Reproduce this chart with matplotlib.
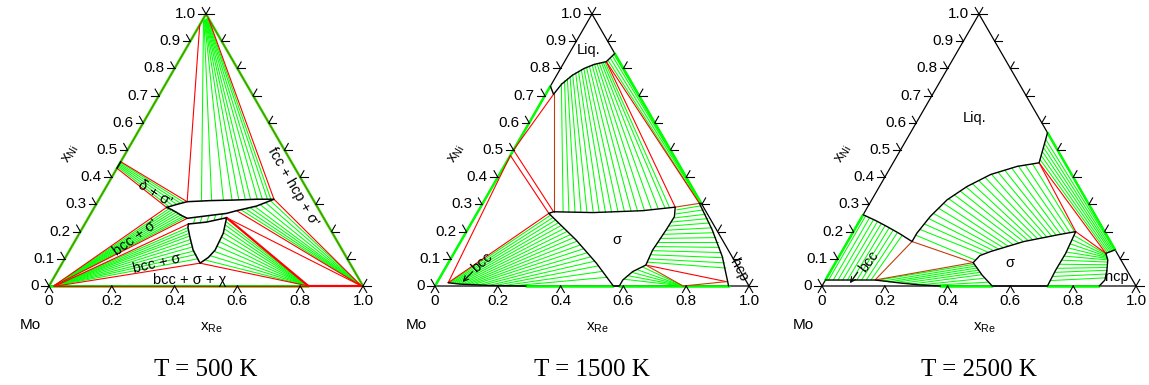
import numpy as np
import matplotlib.pyplot as plt

plt.rcParams['font.family'] = ['Liberation Sans', 'DejaVu Sans']
plt.rcParams['mathtext.fontset'] = 'custom'
plt.rcParams['mathtext.rm'] = 'Liberation Sans'
plt.rcParams['mathtext.it'] = 'Liberation Sans'

GREEN = '#00ff00'
RED = '#ff0000'
BROWN = '#c0400a'

# ---- axis ticks (compositions x_Ni on the Mo-Ni side, x_Re on Mo-Re side)
LEFT_TICKS = [0.0, 0.1, 0.2, 0.3, 0.4, 0.5, 0.6, 0.7, 0.8, 0.9, 1.0]
LEFT_LABELS = ['0', '0.1', '0.2', '0.3', '0.4', '0.5', '0.6', '0.7', '0.8', '0.9', '1.0']
BOTTOM_TICKS = [0.0, 0.2, 0.4, 0.6, 0.8, 1.0]
BOTTOM_LABELS = ['0', '0.2', '0.4', '0.6', '0.8', '1.0']
RIGHT_TICKS = [0.0, 0.1, 0.2, 0.3, 0.4, 0.5, 0.6, 0.7, 0.8, 0.9, 1.0]
TITLES = ['T = 500 K', 'T = 1500 K', 'T = 2500 K']

# all points are (x_Re, x_Ni)
# ================= T = 500 K =================
T500_SIGP = [(0.230, 0.289), (0.257, 0.300), (0.285, 0.310), (0.356, 0.314), (0.429, 0.316),
             (0.502, 0.319), (0.557, 0.319), (0.514, 0.294), (0.459, 0.277), (0.432, 0.267),
             (0.373, 0.258), (0.316, 0.249), (0.295, 0.258), (0.272, 0.270), (0.250, 0.281),
             (0.230, 0.289)]
T500_SIG = [(0.330, 0.228), (0.384, 0.235), (0.440, 0.251), (0.458, 0.194), (0.463, 0.132),
            (0.455, 0.105), (0.439, 0.084), (0.393, 0.132), (0.358, 0.181), (0.335, 0.215),
            (0.330, 0.228)]
T500_BCC = (0.015, 0.0)
T500_CHI = (0.826, 0.0)
T500_HCP = (0.995, 0.0)
T500_FCC_ENDS = [(0.004, 0.976), (0.005, 0.977), (0.006, 0.978), (0.007, 0.978), (0.008, 0.979),
                 (0.009, 0.980), (0.010, 0.981), (0.011, 0.981), (0.012, 0.982), (0.013, 0.983),
                 (0.014, 0.984)]
T500_SIGP_FCC = [(0.329, 0.313), (0.361, 0.314), (0.398, 0.315), (0.425, 0.316), (0.446, 0.317),
                 (0.467, 0.317), (0.483, 0.318), (0.504, 0.319), (0.520, 0.319), (0.536, 0.319),
                 (0.547, 0.319)]
T500_DELTA_ENDS = [(0.0, 0.438), (0.0, 0.442), (0.0, 0.446), (0.0, 0.450), (0.0, 0.454)]
T500_SIGP_DELTA = [(0.236, 0.292), (0.246, 0.296), (0.257, 0.300), (0.267, 0.304), (0.277, 0.307)]
T500_SIGP_BCC = [(0.240, 0.284), (0.250, 0.280), (0.260, 0.276), (0.270, 0.272), (0.280, 0.267),
                 (0.290, 0.262), (0.300, 0.257), (0.308, 0.253)]
T500_SIG_BCC = [(0.334, 0.214), (0.340, 0.203), (0.347, 0.192), (0.355, 0.183), (0.365, 0.171),
                (0.375, 0.158), (0.386, 0.144), (0.398, 0.129), (0.410, 0.116), (0.424, 0.100)]
T500_SIG_CHI = [(0.445, 0.237), (0.450, 0.224), (0.454, 0.210), (0.457, 0.196), (0.460, 0.180),
                (0.462, 0.163), (0.463, 0.146), (0.461, 0.128), (0.456, 0.112), (0.448, 0.096)]
T500_SIGP_HCP = [(0.470, 0.281), (0.482, 0.285), (0.495, 0.289), (0.508, 0.293), (0.522, 0.300),
                 (0.536, 0.307), (0.548, 0.314)]
T500_SIGP_SIG_A = [(0.340, 0.252), (0.360, 0.255), (0.380, 0.259), (0.400, 0.262), (0.420, 0.265)]
T500_SIGP_SIG_B = [(0.345, 0.230), (0.365, 0.232), (0.385, 0.236), (0.405, 0.241), (0.425, 0.246)]
T500_RED = [((0.0, 0.960), (0.285, 0.310)), ((0.015, 0.985), (0.557, 0.319)),
            ((0.557, 0.319), (0.995, 0.0)), ((0.0, 0.457), (0.285, 0.310)),
            ((0.0, 0.433), (0.230, 0.289)), ((0.015, 0.0), (0.230, 0.289)),
            ((0.015, 0.0), (0.316, 0.249)), ((0.020, 0.0), (0.330, 0.228)),
            ((0.025, 0.0), (0.439, 0.084)), ((0.439, 0.084), (0.826, 0.0)),
            ((0.459, 0.277), (0.995, 0.0)), ((0.440, 0.251), (0.995, 0.0)),
            ((0.015, 0.0), (0.826, 0.0))]
T500_RED_THICK = [((0.440, 0.251), (0.826, 0.0)), ((0.826, 0.0), (0.995, 0.0))]
T500_TEXT = [('fcc + hcp + σ\'', 0.777, 0.315, -60), ('δ + σ\'', 0.336, 0.295, -32),
             ('bcc + σ\'', 0.274, 0.155, 36), ('bcc + σ', 0.345, 0.072, 13),
             ('bcc + σ + χ', 0.449, 0.020, 0)]

# ================= T = 1500 K =================
T1500_LIQ = [(0.0, 0.735), (0.025, 0.705), (0.032, 0.742), (0.050, 0.775), (0.075, 0.800),
             (0.100, 0.815), (0.133, 0.825), (0.145, 0.855)]
T1500_SIG = [(0.229, 0.267), (0.241, 0.273), (0.368, 0.270), (0.523, 0.277), (0.620, 0.290),
             (0.635, 0.255), (0.633, 0.206), (0.627, 0.132), (0.633, 0.077), (0.603, 0.053),
             (0.587, 0.022), (0.587, 0.0), (0.568, 0.0), (0.472, 0.084), (0.365, 0.169),
             (0.229, 0.267)]
T1500_BCC = [(0.036, 0.012), (0.076, 0.007), (0.173, 0.002), (0.290, 0.0)]
T1500_HCP = [(0.696, 0.304), (0.690, 0.304), (0.780, 0.206), (0.861, 0.108), (0.920, 0.022),
             (0.935, 0.0)]
T1500_LIQ_ENDS = [(0.030, 0.745), (0.035, 0.755), (0.040, 0.763), (0.045, 0.770), (0.050, 0.777),
                  (0.056, 0.784), (0.062, 0.790), (0.068, 0.796), (0.074, 0.800), (0.080, 0.805),
                  (0.087, 0.809), (0.094, 0.813), (0.100, 0.816), (0.107, 0.818), (0.113, 0.820),
                  (0.119, 0.822), (0.124, 0.823), (0.129, 0.824)]
T1500_SIG_LIQ = [(0.272, 0.272), (0.291, 0.271), (0.311, 0.270), (0.330, 0.270), (0.349, 0.270),
                 (0.369, 0.270), (0.388, 0.270), (0.408, 0.270), (0.427, 0.271), (0.447, 0.272),
                 (0.467, 0.273), (0.487, 0.275), (0.507, 0.276), (0.528, 0.278), (0.549, 0.281),
                 (0.569, 0.284), (0.589, 0.287), (0.603, 0.288)]
T1500_BCC_ENDS = [(0.040, 0.0115), (0.045, 0.011), (0.050, 0.0105), (0.056, 0.010), (0.062, 0.0095),
                  (0.068, 0.009), (0.075, 0.0075), (0.083, 0.007), (0.092, 0.006), (0.100, 0.0055),
                  (0.110, 0.005), (0.120, 0.0045), (0.135, 0.0035), (0.150, 0.003), (0.170, 0.002),
                  (0.190, 0.0015), (0.215, 0.001), (0.245, 0.0005)]
T1500_SIG_BCC = [(0.238, 0.261), (0.250, 0.252), (0.263, 0.243), (0.277, 0.233), (0.291, 0.223),
                 (0.306, 0.212), (0.321, 0.201), (0.337, 0.189), (0.353, 0.178), (0.370, 0.165),
                 (0.387, 0.151), (0.405, 0.137), (0.423, 0.122), (0.442, 0.107), (0.462, 0.091),
                 (0.483, 0.074), (0.507, 0.054), (0.532, 0.032)]
T1500_SIG_HCP = [(0.630, 0.280), (0.635, 0.265), (0.636, 0.250), (0.635, 0.235), (0.634, 0.220),
                 (0.633, 0.205), (0.631, 0.190), (0.629, 0.175), (0.628, 0.160), (0.627, 0.145),
                 (0.627, 0.130), (0.628, 0.115), (0.630, 0.100), (0.632, 0.088)]
T1500_HCP_SIG = [(0.700, 0.295), (0.715, 0.280), (0.730, 0.264), (0.745, 0.248), (0.760, 0.232),
                 (0.775, 0.214), (0.790, 0.196), (0.805, 0.178), (0.820, 0.160), (0.835, 0.142),
                 (0.850, 0.123), (0.865, 0.104), (0.880, 0.085), (0.893, 0.066)]
T1500_SIG_CHI = [(0.626, 0.070), (0.614, 0.060), (0.603, 0.050), (0.595, 0.038), (0.589, 0.025)]
T1500_CHI = (0.790, 0.0)
T1500_LIQ_HCP_A = [(0.136, 0.830), (0.139, 0.838), (0.142, 0.846), (0.144, 0.852)]
T1500_LIQ_HCP_B = [(0.691, 0.304), (0.693, 0.305), (0.695, 0.305), (0.696, 0.304)]
T1500_RED = [((0.025, 0.705), (0.0, 0.500)), ((0.0, 0.500), (0.241, 0.273)),
             ((0.0, 0.480), (0.229, 0.267)), ((0.036, 0.012), (0.0, 0.480)),
             ((0.036, 0.012), (0.229, 0.267)), ((0.133, 0.825), (0.620, 0.290)),
             ((0.133, 0.825), (0.690, 0.304)), ((0.633, 0.077), (0.920, 0.016))]
T1500_BROWN = [((0.025, 0.705), (0.241, 0.273)), ((0.620, 0.290), (0.690, 0.304)),
               ((0.633, 0.077), (0.790, 0.0)), ((0.790, 0.0), (0.920, 0.016))]
T1500_EDGE_GREEN = [((0.0, 0.0), (0.0, 0.735)), ((0.145, 0.855), (0.696, 0.304)),
                    ((0.290, 0.0), (0.568, 0.0)), ((0.587, 0.0), (0.935, 0.0))]
T1500_TEXT = [('Liq.', 0.488, 0.752, 0), ('σ', 0.579, 0.146, 0), ('hcp', 0.966, 0.051, -62),
              ('bcc', 0.148, 0.074, 42)]
T1500_ARROW = ((0.120, 0.046), (0.088, 0.013))

# ================= T = 2500 K =================
T2500_LIQ = [(0.0, 0.262), (0.050, 0.241), (0.097, 0.219), (0.150, 0.193), (0.205, 0.1635),
             (0.205, 0.1945), (0.217, 0.256), (0.240, 0.317), (0.279, 0.366), (0.332, 0.410),
             (0.402, 0.440), (0.465, 0.453), (0.4365, 0.5635)]
T2500_BCC = [(0.0, 0.022), (0.158, 0.022), (0.244, 0.011), (0.310, 0.004), (0.377, 0.0)]
T2500_SIG = [(0.4385, 0.086), (0.447, 0.112), (0.474, 0.127), (0.561, 0.1635), (0.656, 0.188),
             (0.708, 0.200), (0.716, 0.120), (0.715, 0.059), (0.718, 0.0), (0.542, 0.0),
             (0.490, 0.040), (0.4385, 0.086)]
T2500_HCP = [(0.867, 0.133), (0.844, 0.120), (0.862, 0.096), (0.878, 0.059), (0.890, 0.022),
             (0.883, 0.0)]
T2500_BCC_LIQ = [(0.010, 0.022), (0.025, 0.022), (0.040, 0.022), (0.055, 0.022), (0.070, 0.022),
                 (0.085, 0.022), (0.100, 0.022), (0.115, 0.022), (0.130, 0.022), (0.145, 0.022)]
T2500_LIQ_BCC = [(0.010, 0.258), (0.026, 0.251), (0.042, 0.244), (0.058, 0.236), (0.074, 0.229),
                 (0.090, 0.222), (0.107, 0.214), (0.124, 0.206), (0.142, 0.197), (0.162, 0.186)]
T2500_BCC_SIG = [(0.165, 0.021), (0.185, 0.018), (0.205, 0.015), (0.225, 0.013), (0.250, 0.010),
                 (0.280, 0.007), (0.310, 0.004), (0.340, 0.002)]
T2500_SIG_BCC = [(0.445, 0.080), (0.452, 0.073), (0.460, 0.066), (0.468, 0.058), (0.476, 0.050),
                 (0.485, 0.041), (0.500, 0.028), (0.520, 0.014)]
T2500_LIQ_SIG = [(0.205, 0.187), (0.208, 0.208), (0.212, 0.228), (0.216, 0.248), (0.221, 0.267),
                 (0.228, 0.286), (0.235, 0.304), (0.243, 0.321), (0.254, 0.335), (0.266, 0.349),
                 (0.277, 0.364), (0.291, 0.376), (0.305, 0.388), (0.319, 0.400), (0.334, 0.411),
                 (0.352, 0.418), (0.369, 0.426), (0.387, 0.434), (0.405, 0.441), (0.425, 0.445),
                 (0.446, 0.449)]
T2500_SIG_LIQ = [(0.441, 0.095), (0.454, 0.116), (0.467, 0.124), (0.481, 0.130), (0.494, 0.136),
                 (0.507, 0.141), (0.520, 0.146), (0.533, 0.152), (0.547, 0.158), (0.560, 0.163),
                 (0.573, 0.167), (0.586, 0.170), (0.599, 0.174), (0.613, 0.177), (0.626, 0.180),
                 (0.639, 0.184), (0.652, 0.187), (0.665, 0.190), (0.679, 0.193), (0.692, 0.196),
                 (0.705, 0.199)]
T2500_LIQ_HCP = [(0.462, 0.465), (0.458, 0.480), (0.454, 0.495), (0.450, 0.510), (0.446, 0.525),
                 (0.442, 0.540)]
T2500_HCP_LIQ = [(0.848, 0.122), (0.852, 0.124), (0.856, 0.126), (0.859, 0.128), (0.862, 0.130),
                 (0.865, 0.132)]
T2500_SIG_HCP = [(0.711, 0.185), (0.712, 0.170), (0.713, 0.155), (0.714, 0.140), (0.715, 0.125),
                 (0.716, 0.110), (0.716, 0.095), (0.716, 0.080), (0.715, 0.065), (0.715, 0.050),
                 (0.716, 0.035), (0.717, 0.020)]
T2500_HCP_SIG = [(0.846, 0.117), (0.849, 0.113), (0.852, 0.109), (0.855, 0.105), (0.858, 0.101),
                 (0.862, 0.096), (0.866, 0.088), (0.870, 0.078), (0.874, 0.068), (0.878, 0.058),
                 (0.883, 0.044), (0.887, 0.030)]
T2500_RED = [((0.465, 0.453), (0.708, 0.200)), ((0.465, 0.453), (0.844, 0.120)),
             ((0.708, 0.200), (0.844, 0.120))]
T2500_BROWN = [((0.158, 0.022), (0.205, 0.1635)), ((0.158, 0.022), (0.4385, 0.086)),
               ((0.205, 0.1635), (0.4385, 0.086))]
T2500_EDGE_GREEN = [((0.0, 0.022), (0.0, 0.262)), ((0.4365, 0.5635), (0.867, 0.133)),
                    ((0.377, 0.0), (0.542, 0.0)), ((0.718, 0.0), (0.883, 0.0))]
T2500_TEXT = [('Liq.', 0.487, 0.535, 0), ('σ', 0.599, 0.072, 0), ('hcp', 0.938, 0.030, 0),
              ('bcc', 0.148, 0.078, 53)]
T2500_ARROW = ((0.114, 0.044), (0.089, 0.009))

SQ3 = np.sqrt(3) / 2


def to_xy(pts):
    p = np.atleast_2d(np.asarray(pts, dtype=float))
    return p[:, 0] + 0.5 * p[:, 1], SQ3 * p[:, 1]


def line(ax, pts, color='k', lw=1.0, z=4):
    x, y = to_xy(pts)
    ax.plot(x, y, color=color, lw=lw, zorder=z, solid_capstyle='round')


def ties(ax, a, b, color=GREEN, lw=0.75, z=2):
    a = np.atleast_2d(a)
    b = np.atleast_2d(b)
    if len(a) == 1:
        a = np.repeat(a, len(b), axis=0)
    if len(b) == 1:
        b = np.repeat(b, len(a), axis=0)
    for p, q in zip(a, b):
        line(ax, [p, q], color, lw, z)


def segs(ax, pairs, color, lw=0.8, z=3):
    for p, q in pairs:
        line(ax, [p, q], color, lw, z)


def tick(ax, pt, angles, size=0.024):
    x, y = to_xy(pt)
    for a in angles:
        r = np.radians(a)
        ax.plot([x[0], x[0] + size * np.cos(r)], [y[0], y[0] + size * np.sin(r)],
                color='k', lw=0.8, zorder=5)


def frame(ax, title):
    line(ax, [(0, 0), (1, 0), (0, 1), (0, 0)], 'k', 0.9, 1)
    for t, lab in zip(LEFT_TICKS, LEFT_LABELS):
        tick(ax, (0, t), (180, 120))
        x, y = to_xy((0, t))
        ax.text(x[0] - 0.032, y[0], lab, ha='right', va='center', fontsize=11)
    for t, lab in zip(BOTTOM_TICKS, BOTTOM_LABELS):
        tick(ax, (t, 0), (240, 300))
        ax.text(t, -0.047, lab, ha='center', va='center', fontsize=11)
    for t in RIGHT_TICKS:
        tick(ax, (1 - t, t), (0, 60))
    ax.text(0.068, 0.42, r'$\mathregular{x_{Ni}}$', rotation=60, ha='center', va='center', fontsize=11)
    ax.text(-0.06, -0.124, 'Mo', ha='center', va='center', fontsize=11)
    ax.text(0.519, -0.134, r'$\mathregular{x_{Re}}$', ha='center', va='center', fontsize=11)
    ax.text(0.5, -0.268, title, ha='center', va='center', fontsize=18, family='Liberation Serif')


def labels(ax, items):
    for s, x, y, rot in items:
        ax.text(x, y, s, rotation=rot, ha='center', va='center', fontsize=10.5, zorder=6)


def arrow(ax, tail_head):
    tail, head = tail_head
    ax.annotate('', xy=head, xytext=tail,
                arrowprops=dict(arrowstyle='->', lw=0.8, color='k', shrinkA=0, shrinkB=0,
                                mutation_scale=9), zorder=6)


def panel_500(ax):
    # binary edges
    segs(ax, [((0.0, 0.0), (0.0, 1.0)), ((1.0, 0.0), (0.0, 1.0)), ((0.0, 0.0), (0.826, 0.0))],
         GREEN, lw=1.8, z=2)
    segs(ax, [((0.0, 0.0), (0.0, 1.0)), ((1.0, 0.0), (0.0, 1.0))], BROWN, lw=0.6, z=3)
    ties(ax, T500_FCC_ENDS, T500_SIGP_FCC)
    ties(ax, T500_DELTA_ENDS, T500_SIGP_DELTA)
    ties(ax, T500_BCC, T500_SIGP_BCC)
    ties(ax, T500_BCC, T500_SIG_BCC)
    ties(ax, T500_SIG_CHI, T500_CHI)
    ties(ax, T500_SIGP_HCP, T500_HCP)
    ties(ax, T500_SIGP_SIG_A, T500_SIGP_SIG_B)
    segs(ax, T500_RED, RED)
    segs(ax, T500_RED_THICK, RED, lw=1.6)
    line(ax, T500_SIGP, 'k', 1.1)
    line(ax, T500_SIG, 'k', 1.1)
    line(ax, [(0.0, 0.433), (0.0, 0.457)], 'k', 1.1)
    labels(ax, T500_TEXT)


def panel_1500(ax):
    segs(ax, T1500_EDGE_GREEN, GREEN, lw=1.8, z=2)
    ties(ax, T1500_LIQ_ENDS, T1500_SIG_LIQ)
    ties(ax, T1500_BCC_ENDS, T1500_SIG_BCC)
    ties(ax, T1500_SIG_HCP, T1500_HCP_SIG)
    ties(ax, T1500_SIG_CHI, T1500_CHI)
    ties(ax, T1500_LIQ_HCP_A, T1500_LIQ_HCP_B)
    segs(ax, T1500_RED, RED)
    segs(ax, T1500_BROWN, BROWN)
    line(ax, T1500_LIQ, 'k', 1.0)
    line(ax, T1500_SIG, 'k', 1.0)
    line(ax, T1500_BCC, 'k', 1.0)
    line(ax, T1500_HCP, 'k', 1.0)
    labels(ax, T1500_TEXT)
    arrow(ax, T1500_ARROW)


def panel_2500(ax):
    segs(ax, T2500_EDGE_GREEN, GREEN, lw=1.8, z=2)
    ties(ax, T2500_BCC_LIQ, T2500_LIQ_BCC)
    ties(ax, T2500_BCC_SIG, T2500_SIG_BCC)
    ties(ax, T2500_LIQ_SIG, T2500_SIG_LIQ)
    ties(ax, T2500_LIQ_HCP, T2500_HCP_LIQ)
    ties(ax, T2500_SIG_HCP, T2500_HCP_SIG)
    segs(ax, T2500_RED, RED)
    segs(ax, T2500_BROWN, BROWN)
    line(ax, T2500_LIQ, 'k', 1.0)
    line(ax, T2500_BCC, 'k', 1.0)
    line(ax, T2500_SIG, 'k', 1.0)
    line(ax, T2500_HCP, 'k', 1.0)
    labels(ax, T2500_TEXT)
    arrow(ax, T2500_ARROW)


# figure: three ternary panels, 314 px per composition unit
W, H = 1149, 385
S = 314.0
X0, X1, Y0, Y1 = -0.15, 1.08, -0.28, 0.90
BASE = 286  # pixel row of the Mo-Re side
fig = plt.figure(figsize=(W / 100, H / 100), dpi=100)
for ox, title, draw in zip([49, 435, 822], TITLES, [panel_500, panel_1500, panel_2500]):
    ax = fig.add_axes([(ox + S * X0) / W, (H - BASE + S * Y0) / H,
                       S * (X1 - X0) / W, S * (Y1 - Y0) / H])
    ax.set_xlim(X0, X1)
    ax.set_ylim(Y0, Y1)
    ax.axis('off')
    frame(ax, title)
    draw(ax)

fig.savefig('out.png', dpi=100)
